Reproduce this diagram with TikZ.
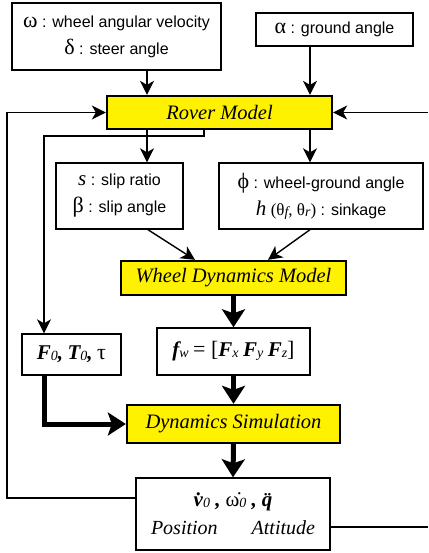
\documentclass[tikz,border=0pt]{standalone}
\usepackage{fontspec}
\setmainfont{Liberation Serif}
\setsansfont{Liberation Sans}
\usetikzlibrary{arrows.meta,calc}
\definecolor{ybox}{RGB}{255,242,0}
\newcommand\gk[1]{{\rmfamily\upshape\mdseries\fontsize{22}{22}\selectfont #1}}
\newcommand\itx[1]{{\rmfamily\itshape\fontsize{21}{21}\selectfont #1}}
\newcommand\bim[1]{{\rmfamily\bfseries\itshape\fontsize{21}{21}\selectfont #1}}
\newcommand\lsub[1]{\raisebox{-1pt}{\rmfamily\itshape\mdseries\fontsize{14}{14}\selectfont #1}}
\begin{document}
\begin{tikzpicture}[x=1pt,y=-1pt,
 box/.style={draw, line width=1.4pt, fill=white, inner sep=0pt, align=center, font=\sffamily\fontsize{16}{27}\selectfont},
 ybx/.style={draw, line width=2.3pt, fill=ybox, inner sep=0pt, font=\rmfamily\itshape\fontsize{20.5}{20.5}\selectfont},
 arr/.style={line width=1.4pt, -{Stealth[length=14pt,width=14pt,inset=4pt]}},
 tarr/.style={line width=5pt, line join=miter, -{Stealth[length=18pt,width=23pt,inset=4pt]}},
 ln/.style={line width=1.4pt}]
\useasboundingbox (0,0) rectangle (428,553);
\fill[white] (0,0) rectangle (428,553);
% nodes
\node[box, minimum width=209pt, minimum height=67pt] (b1) at (116.5,36.5)
  {\gk{ω} : wheel angular velocity\\\gk{δ} : steer angle};
\node[box, minimum width=157pt, minimum height=33pt] (b2) at (334.5,29.5)
  {\gk{α} : ground angle};
\node[ybx, minimum width=225pt, minimum height=33pt] (rover) at (219.5,112.5) {Rover Model};
\node[box, minimum width=127pt, minimum height=66pt] (sb) at (119.5,196)
  {\itx{s} : slip ratio\\\gk{β} : slip angle};
\node[box, minimum width=204pt, minimum height=66pt] (pb) at (321,196)
  {\gk{ϕ} : wheel-ground angle\\\itx{h} {\rmfamily\fontsize{17}{17}\selectfont(θ\lsub{f}, θ\lsub{r})} : sinkage};
\node[ybx, minimum width=225pt, minimum height=34pt] (wdm) at (233.5,278) {Wheel Dynamics Model};
\node[box, minimum width=153pt, minimum height=47pt] (fw) at (233.5,351.5)
  {\bim{f}\lsub{w} {\rmfamily\fontsize{22}{22}\selectfont = [}\bim{F}\lsub{x} \bim{F}\lsub{y} \bim{F}\lsub{z}{\rmfamily\fontsize{22}{22}\selectfont ]}};
\node[box, minimum width=99pt, minimum height=41pt] (f0) at (71.5,354.5)
  {\bim{F}\lsub{0}\bim{,} \bim{T}\lsub{0}\bim{,} \gk{τ}};
\node[ybx, minimum width=213pt, minimum height=38pt] (ds) at (233.5,424) {Dynamics Simulation};
\node[box, minimum width=194pt, minimum height=72pt, font=\rmfamily\fontsize{20}{28}\selectfont] (res) at (233,514)
  {\bim{\.{v}}\lsub{0}\bim{ ,} {\fontsize{21}{21}\selectfont\.{ω}}\lsub{0}\bim{ ,} \bim{\"{q}}\\\textit{Position}\hspace{34pt}\textit{Attitude}};
% helper coordinates
\coordinate (x147) at (147,0);
\coordinate (x148) at (148,0);
\coordinate (x310) at (310,0);
\coordinate (x195) at (195,0);
\coordinate (x268) at (268,0);
\coordinate (x204) at (204,0);
\coordinate (x44) at (44,0);
\coordinate (xl) at (7,0);
\coordinate (y136) at (0,136);
\coordinate (y498) at (0,498);
\coordinate (y527) at (0,527);
\coordinate (rr) at (428,527);
\coordinate (rl) at (428,112.5);
% connectors
\draw[arr] (b1.south -| x147) -- (rover.north -| x147);
\draw[arr] (b2.south -| x310) -- (rover.north -| x310);
\draw[arr] (rover.south -| x147) -- (sb.north -| x147);
\draw[arr] (rover.south -| x310) -- (pb.north -| x310);
\draw[arr] (rover.south -| x204) -- (x204 |- y136) -- (x44 |- y136) -- (f0.north -| x44);
\draw[arr] (sb.south -| x148) -- (wdm.north -| x195);
\draw[arr] (pb.south -| x310) -- (wdm.north -| x268);
\draw[tarr] (wdm.south) -- (fw.north);
\draw[tarr] (fw.south) -- (ds.north);
\draw[tarr] (ds.south) -- (res.north);
\draw[tarr] (f0.south -| x44) |- (ds.west);
\draw[arr] (res.west |- y498) -| (xl |- rover.west) -- (rover.west);
\draw[ln] (res.east |- y527) -- (rr);
\draw[arr] (rl) -- (rover.east);
\end{tikzpicture}
\end{document}
